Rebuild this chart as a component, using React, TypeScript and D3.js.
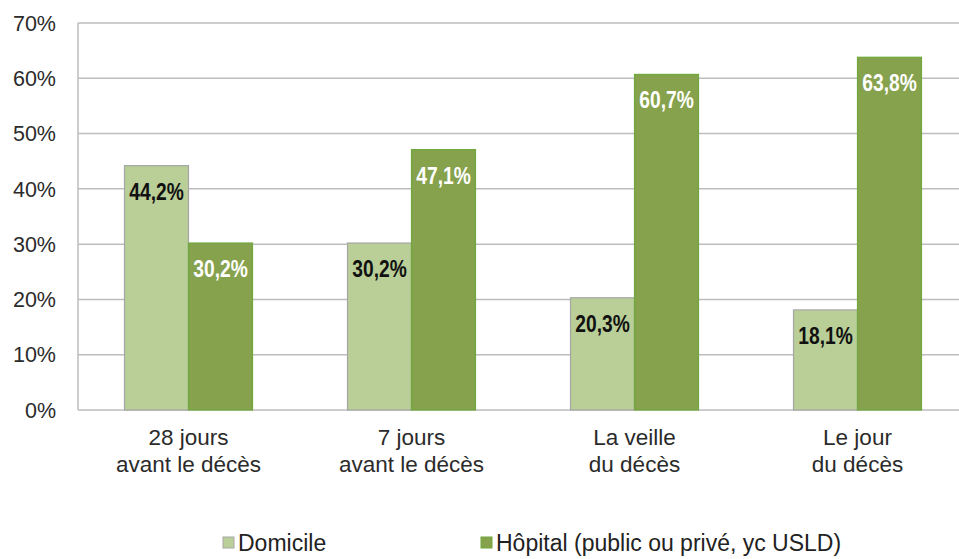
import React, { useEffect, useRef } from "react";
import * as d3 from "d3";

const categories = [
  ["28 jours", "avant le décès"],
  ["7 jours", "avant le décès"],
  ["La veille", "du décès"],
  ["Le jour", "du décès"],
];
const seriesNames = ["Domicile", "Hôpital (public ou privé, yc USLD)"];
const domicile = [44.2, 30.2, 20.3, 18.1];
const hopital = [30.2, 47.1, 60.7, 63.8];
const yTicks = [0, 10, 20, 30, 40, 50, 60, 70];

const width = 959;
const height = 559;

const Chart = () => {
  const ref = useRef<SVGSVGElement>(null);

  useEffect(() => {
    const svg = d3.select(ref.current);
    svg.selectAll("*").remove();

    const x = d3.scaleBand().domain(d3.range(categories.length).map(String)).range([77, 969]);
    const inner = d3.scaleBand().domain(["0", "1"]).range([0, 128]);
    const y = d3.scaleLinear().domain([0, 70]).range([410, 23]);
    const fills = ["#b9cf97", "#86a24d"];
    const strokes = ["#a6a6a6", "#6fa83c"];
    const font = "'Liberation Sans', Arial, sans-serif";

    // grid
    svg.append("g")
      .selectAll("line")
      .data(yTicks)
      .join("line")
      .attr("x1", 78)
      .attr("x2", width)
      .attr("y1", (d) => y(d))
      .attr("y2", (d) => y(d))
      .attr("stroke", "#bdbdbd")
      .attr("stroke-width", 1.5);

    svg.append("line")
      .attr("x1", 78).attr("x2", 78)
      .attr("y1", y(70)).attr("y2", y(0))
      .attr("stroke", "#bdbdbd").attr("stroke-width", 1.5);

    svg.append("g")
      .selectAll("text")
      .data(yTicks)
      .join("text")
      .attr("x", 56)
      .attr("y", (d) => y(d))
      .attr("dy", "0.36em")
      .attr("text-anchor", "end")
      .attr("font-family", font)
      .attr("font-size", 21.5)
      .attr("fill", "#2b2b2b")
      .text((d) => d + "%");

    const series = [domicile, hopital];
    series.forEach((vals, s) => {
      const g = svg.append("g");
      vals.forEach((v, i) => {
        const bx = x(String(i))! + (x.bandwidth() - 128) / 2 + inner(String(s))!;
        g.append("rect")
          .attr("x", bx)
          .attr("y", y(v))
          .attr("width", inner.bandwidth())
          .attr("height", y(0) - y(v))
          .attr("fill", fills[s])
          .attr("stroke", strokes[s])
          .attr("stroke-width", 1.2);
        g.append("text")
          .attr("transform", `translate(${bx + inner.bandwidth() / 2},${y(v) + 34}) scale(0.8,1)`)
          .attr("text-anchor", "middle")
          .attr("font-family", font)
          .attr("font-weight", "bold")
          .attr("font-size", 24)
          .attr("fill", s === 0 ? "#111" : "#fff")
          .text(v.toFixed(1).replace(".", ",") + "%");
      });
    });

    // category labels
    categories.forEach((lines, i) => {
      const cx = x(String(i))! + x.bandwidth() / 2;
      lines.forEach((t, j) => {
        svg.append("text")
          .attr("x", cx)
          .attr("y", 445 + j * 27)
          .attr("text-anchor", "middle")
          .attr("font-family", font)
          .attr("font-size", 22.5)
          .attr("fill", "#2b2b2b")
          .text(t);
      });
    });

    // legend
    const legendX = [223, 481];
    seriesNames.forEach((name, s) => {
      svg.append("rect")
        .attr("x", legendX[s])
        .attr("y", 537)
        .attr("width", 11)
        .attr("height", 11)
        .attr("fill", fills[s])
        .attr("stroke", strokes[s]);
      svg.append("text")
        .attr("x", legendX[s] + 15)
        .attr("y", 551)
        .attr("font-family", font)
        .attr("font-size", 23)
        .attr("fill", "#222")
        .text(name);
    });
  }, []);

  return (
    <svg
      ref={ref}
      width={width}
      height={height}
      style={{ position: "absolute", left: 0, top: 0, background: "#fff" }}
    />
  );
};

export default function App() {
  return <Chart />;
}
